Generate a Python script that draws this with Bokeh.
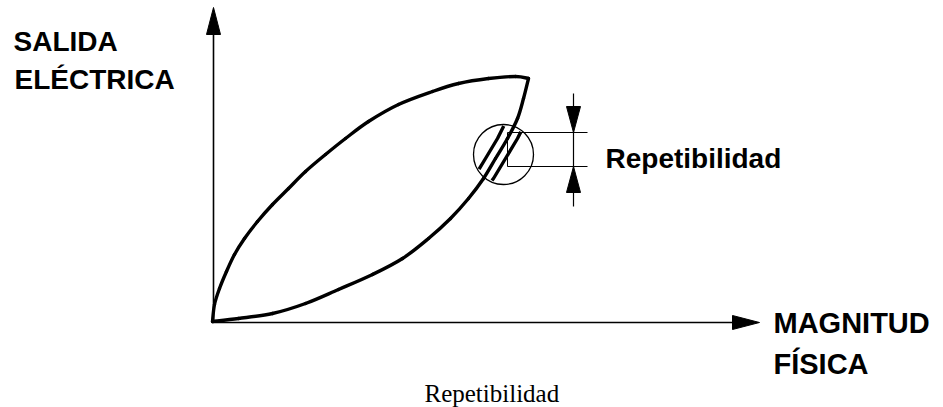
import math
from bokeh.plotting import figure
from bokeh.models import Range1d
from bokeh.core.properties import value
from bokeh.embed import file_html
from bokeh.resources import INLINE

# ---- data (units: physical magnitude vs electrical output, arbitrary) ----
# ascending branch (upper curve)
sube_x = [0, 2, 7, 14, 22, 32, 45, 60, 76, 93, 113, 133, 156, 186, 220, 246, 276, 303, 316]
sube_y = [0, 17, 33, 50, 67, 83, 100, 117, 133, 150, 167, 183, 200, 217, 230, 238, 243, 245, 243]
# descending branch (lower curve)
baja_x = [316, 311, 305, 295, 283, 271, 256, 238, 216, 190, 160, 126, 93, 60, 26, 0]
baja_y = [243, 223, 203, 183, 163, 143, 123, 103, 83, 63, 47, 32, 18, 8, 3, 0]

# repeated readings shown in the detail circle (offsets of the descending branch)
repeticion_dx = [-10, 10]
circulo_x, circulo_y, circulo_r = 291, 167, 30

# repeatability band limits
banda_inf, banda_sup = 155, 189
banda_x0, banda_x1 = 295, 375
cota_x = 361
cota_y0, cota_y1 = 115, 228
flecha_cota = 26
flecha_cota_w = 7

# axes
eje_x_fin, eje_y_fin = 547, 314
flecha_eje = 27
flecha_eje_w = 7

etiquetas_y = ["SALIDA", "ELÉCTRICA"]
etiquetas_x = ["MAGNITUD", "FÍSICA"]
etiqueta_banda = "Repetibilidad"
pie = "Repetibilidad"

# ---- figure ----
p = figure(width=943, height=407, x_range=Range1d(-212, 731), y_range=Range1d(-86, 321),
           output_backend="svg", toolbar_location=None,
           x_axis_location=None, y_axis_location=None, min_border=0)
p.grid.visible = False
p.outline_line_color = None
p.title.visible = False
p.background_fill_color = "white"
p.border_fill_color = "white"

# axes with arrowheads
p.line([0, eje_x_fin - flecha_eje], [-1, -1], line_color="black", line_width=1.6)
p.line([1, 1], [-1, eje_y_fin - flecha_eje], line_color="black", line_width=1.6)
p.patches(xs=[[eje_x_fin, eje_x_fin - flecha_eje, eje_x_fin - flecha_eje],
              [1, 1 - flecha_eje_w, 1 + flecha_eje_w]],
          ys=[[-1, -1 + flecha_eje_w, -1 - flecha_eje_w],
              [eje_y_fin, eje_y_fin - flecha_eje, eje_y_fin - flecha_eje]],
          fill_color="black", line_color="black")


def smooth_segments(xs, ys):
    """Catmull-Rom through the read points, expressed as cubic bezier segments."""
    n = len(xs)
    out = {k: [] for k in ("x0", "y0", "x1", "y1", "cx0", "cy0", "cx1", "cy1")}
    for i in range(n - 1):
        im1 = max(i - 1, 0)
        ip2 = min(i + 2, n - 1)
        out["x0"].append(xs[i]); out["y0"].append(ys[i])
        out["x1"].append(xs[i + 1]); out["y1"].append(ys[i + 1])
        out["cx0"].append(xs[i] + (xs[i + 1] - xs[im1]) / 6.0)
        out["cy0"].append(ys[i] + (ys[i + 1] - ys[im1]) / 6.0)
        out["cx1"].append(xs[i + 1] - (xs[ip2] - xs[i]) / 6.0)
        out["cy1"].append(ys[i + 1] - (ys[ip2] - ys[i]) / 6.0)
    return out


# hysteresis loop
for bx, by in ((sube_x, sube_y), (baja_x, baja_y)):
    s = smooth_segments(bx, by)
    p.bezier(x0=s["x0"], y0=s["y0"], x1=s["x1"], y1=s["y1"],
             cx0=s["cx0"], cy0=s["cy0"], cx1=s["cx1"], cy1=s["cy1"],
             line_color="black", line_width=3.4, line_cap="round")


def clip_polyline(xs, ys, cx, cy, r):
    pieces, cur = [], []
    for i in range(len(xs) - 1):
        x0, y0, x1, y1 = xs[i], ys[i], xs[i + 1], ys[i + 1]
        dx, dy = x1 - x0, y1 - y0
        fx, fy = x0 - cx, y0 - cy
        a = dx * dx + dy * dy
        b = 2 * (fx * dx + fy * dy)
        c = fx * fx + fy * fy - r * r
        disc = b * b - 4 * a * c
        if a == 0 or disc <= 0:
            if cur:
                pieces.append(cur); cur = []
            continue
        sq = math.sqrt(disc)
        t1, t2 = (-b - sq) / (2 * a), (-b + sq) / (2 * a)
        ta, tb = max(0.0, t1), min(1.0, t2)
        if ta >= tb:
            if cur:
                pieces.append(cur); cur = []
            continue
        pa = (x0 + ta * dx, y0 + ta * dy)
        pb = (x0 + tb * dx, y0 + tb * dy)
        if not cur:
            cur = [pa]
        cur.append(pb)
        if tb < 1.0:
            pieces.append(cur); cur = []
    if cur:
        pieces.append(cur)
    return pieces


mxs, mys = [], []
for off in repeticion_dx:
    for piece in clip_polyline([x + off for x in baja_x], baja_y, circulo_x, circulo_y, circulo_r - 1.5):
        mxs.append([q[0] for q in piece])
        mys.append([q[1] for q in piece])
p.multi_line(mxs, mys, line_color="black", line_width=3.4)

# detail circle
p.circle([circulo_x], [circulo_y], radius=circulo_r, fill_color=None, line_color="black", line_width=1.3)

# band lines and dimension
p.line([banda_x0, banda_x1], [banda_sup, banda_sup], line_color="black", line_width=1.2)
p.line([banda_x0, banda_x1], [banda_inf, banda_inf], line_color="black", line_width=1.2)
p.line([banda_x0, banda_x0], [banda_inf, banda_sup], line_color="black", line_width=1.0)
p.line([cota_x, cota_x], [cota_y0, cota_y1], line_color="black", line_width=1.2)
p.patches(xs=[[cota_x, cota_x - flecha_cota_w, cota_x + flecha_cota_w],
              [cota_x, cota_x - flecha_cota_w, cota_x + flecha_cota_w]],
          ys=[[banda_sup, banda_sup + flecha_cota, banda_sup + flecha_cota],
              [banda_inf, banda_inf - flecha_cota, banda_inf - flecha_cota]],
          fill_color="black", line_color="black")

# labels
sans = value("Liberation Sans")
p.text(x=[-199, -198], y=[280, 242], text=etiquetas_y, text_font=sans, text_font_size="28px",
       text_font_style="bold", text_baseline="alphabetic", text_align="left", text_color="black")
p.text(x=[561, 561], y=[-1, -42], text=etiquetas_x, text_font=sans, text_font_size="29px",
       text_font_style="bold", text_baseline="alphabetic", text_align="left", text_color="black")
p.text(x=[393], y=[163], text=[etiqueta_banda], text_font=sans, text_font_size="28px",
       text_font_style="bold", text_baseline="alphabetic", text_align="left", text_color="black")
p.text(x=[212], y=[-72], text=[pie], text_font=value("Liberation Serif"), text_font_size="25px",
       text_baseline="alphabetic", text_align="left", text_color="black")

open("out.html", "w").write(file_html(p, INLINE))
